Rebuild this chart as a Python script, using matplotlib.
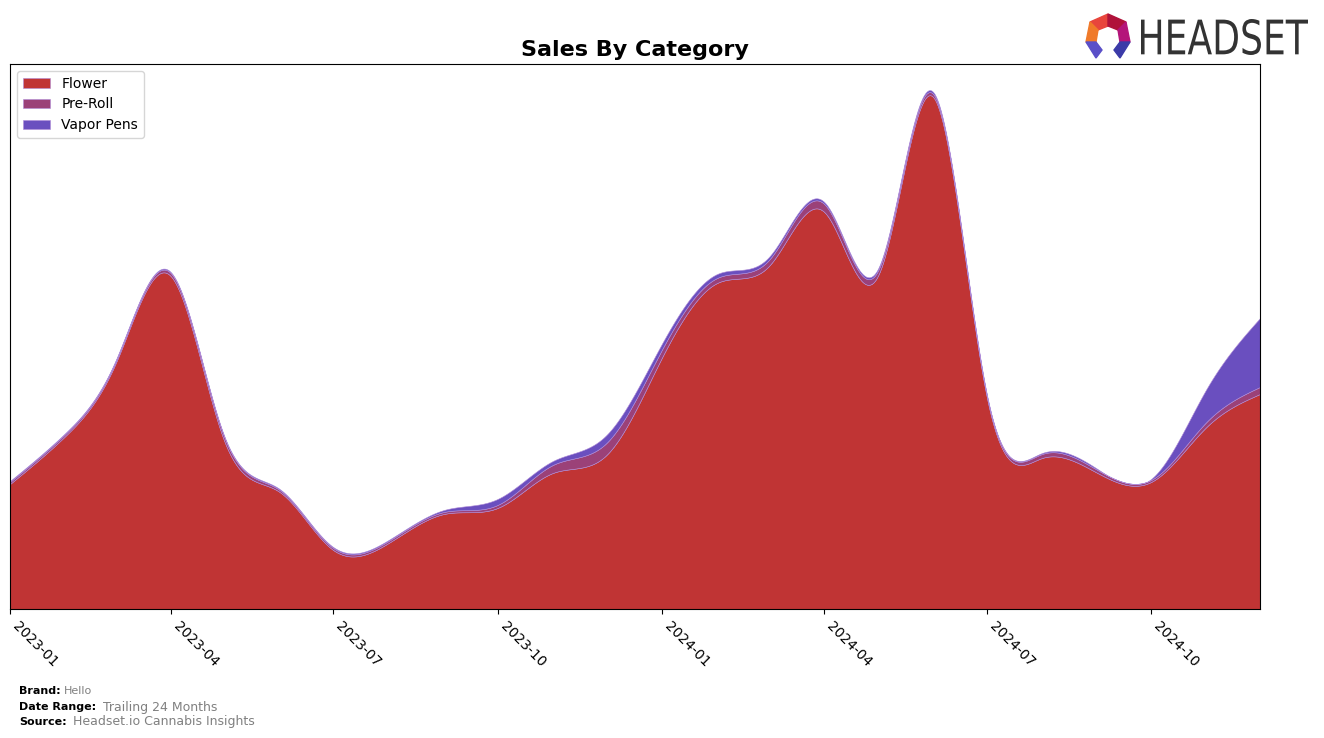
import numpy as np
import pandas as pd
import matplotlib
matplotlib.use("Agg")
import matplotlib.pyplot as plt
import matplotlib.dates as mdates
from matplotlib.patches import Polygon, PathPatch
from matplotlib.textpath import TextPath
from matplotlib.font_manager import FontProperties
from matplotlib.transforms import Affine2D, IdentityTransform

# monthly data (arbitrary units)
months = pd.date_range("2023-01-01", "2024-12-01", freq="MS")
flower = [125, 173, 245, 333, 168, 117, 59, 66, 95, 101, 136, 154,
          251, 326, 343, 397, 333, 512, 212, 151, 136, 127, 182, 215]
preroll = [2, 2, 2, 3, 4, 2, 2, 2, 2, 3, 8, 12,
           8, 5, 6, 8, 5, 3, 2, 4, 3, 2, 5, 7]
vapor = [1, 1, 1, 1, 1, 1, 1, 1, 2, 6, 4, 8,
         6, 4, 3, 2, 2, 2, 1, 1, 1, 1, 33, 69]
categories = ["Flower", "Pre-Roll", "Vapor Pens"]
colors = ["#c03434", "#9b4178", "#6a4fbf"]


def spline(x, y, xs):
    # natural cubic spline
    x = np.asarray(x, float)
    y = np.asarray(y, float)
    n = len(x)
    h = np.diff(x)
    A = np.zeros((n, n))
    b = np.zeros(n)
    A[0, 0] = 1
    A[-1, -1] = 1
    for i in range(1, n - 1):
        A[i, i - 1] = h[i - 1]
        A[i, i] = 2 * (h[i - 1] + h[i])
        A[i, i + 1] = h[i]
        b[i] = 3 * ((y[i + 1] - y[i]) / h[i] - (y[i] - y[i - 1]) / h[i - 1])
    c = np.linalg.solve(A, b)
    idx = np.clip(np.searchsorted(x, xs) - 1, 0, n - 2)
    dx = xs - x[idx]
    bb = (y[idx + 1] - y[idx]) / h[idx] - h[idx] * (2 * c[idx] + c[idx + 1]) / 3
    dd = (c[idx + 1] - c[idx]) / (3 * h[idx])
    return y[idx] + bb * dx + c[idx] * dx ** 2 + dd * dx ** 3


xnum = mdates.date2num(months)
xs = np.linspace(xnum[0], xnum[-1], 800)
ys = [np.clip(spline(xnum, s, xs), 0, None) for s in (flower, preroll, vapor)]

fig = plt.figure(figsize=(13.24, 7.38), dpi=100)
ax = fig.add_axes([10 / 1324, 1 - 609 / 738, 1250 / 1324, 545 / 738])
ax.stackplot(xs, *ys, labels=categories, colors=colors,
             edgecolor="#b08cd8", linewidth=0.4)
ax.set_xlim(xnum[0], xnum[-1])
ax.set_ylim(0, 545)
ax.set_yticks([])
ax.xaxis.set_major_locator(mdates.MonthLocator(bymonth=[1, 4, 7, 10]))
ax.xaxis.set_major_formatter(mdates.DateFormatter("%Y-%m"))
plt.setp(ax.get_xticklabels(), rotation=-45, ha="left", fontsize=10)
ax.set_title("Sales By Category", fontsize=16, fontweight="bold")
ax.legend(loc="upper left", fontsize=10)

# footer
fig.text(19 / 1324, 1 - 691 / 738, "Brand:", fontsize=8, fontweight="bold", va="center")
fig.text(64 / 1324, 1 - 691 / 738, "Hello", fontsize=8, color="gray", va="center")
fig.text(19 / 1324, 1 - 707 / 738, "Date Range:", fontsize=8, fontweight="bold", va="center")
fig.text(103 / 1324, 1 - 707 / 738, "Trailing 24 Months", fontsize=9, color="gray", va="center")
fig.text(19 / 1324, 1 - 722 / 738, "Source:", fontsize=8, fontweight="bold", va="center")
fig.text(73 / 1324, 1 - 722 / 738, "Headset.io Cannabis Insights", fontsize=9, color="gray", va="center")

# logo text, squeezed into its box (pixel coords)
tp = TextPath((0, 0), "HEADSET", size=40, prop=FontProperties(family="DejaVu Sans"))
bb = tp.get_extents()
x0, x1, ytop, ybot = 1141, 1308, 19, 55
tr = Affine2D().translate(-bb.x0, -bb.y0).scale((x1 - x0) / bb.width, (ybot - ytop) / bb.height) \
    .translate(x0, 738 - ybot)
fig.patches.append(PathPatch(tr.transform_path(tp), color="#333333", lw=0,
                             transform=IdentityTransform()))


def px(pts):
    return [(x / 1324, 1 - y / 738) for x, y in pts]


logo = [
    ([(1090, 22), (1108, 14), (1108, 26), (1098, 30)], "#e8453c"),
    ([(1108, 14), (1126, 22), (1118, 30), (1108, 26)], "#b0123a"),
    ([(1090, 22), (1098, 30), (1096, 42), (1086, 42)], "#f07a2a"),
    ([(1126, 22), (1130, 42), (1120, 42), (1118, 30)], "#b4157a"),
    ([(1086, 42), (1096, 42), (1102, 50), (1096, 58)], "#5a4fc8"),
    ([(1130, 42), (1120, 42), (1114, 50), (1120, 58)], "#3b3aa8"),
]
for pts, col in logo:
    fig.patches.append(Polygon(px(pts), closed=True, color=col, transform=fig.transFigure))

fig.savefig("out.png", dpi=100)
